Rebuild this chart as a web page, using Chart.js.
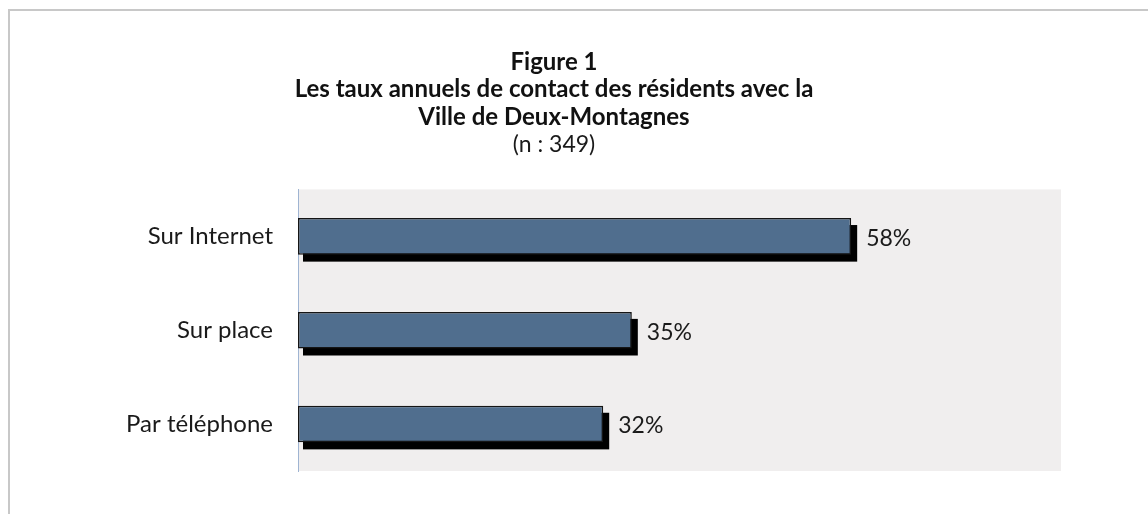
<!DOCTYPE html>
<html>
<head>
<meta charset="utf-8">
<script src="https://cdn.jsdelivr.net/npm/chart.js@4.4.0/dist/chart.umd.min.js"></script>
<style>
  html, body { margin: 0; padding: 0; background: #fff; }
  #wrap { position: relative; width: 1148px; height: 514px; overflow: hidden; }
  #frame { position: absolute; left: 8px; top: 9px; width: 1200px; height: 600px;
           border-top: 2px solid #c8c8c8; border-left: 2px solid #c8c8c8; }
  canvas { position: absolute; left: 0; top: 0; }
</style>
</head>
<body>
<div id="wrap">
  <div id="frame"></div>
  <canvas id="chart" width="1148" height="514"></canvas>
</div>
<script>
// Données
const categories = ['Sur Internet', 'Sur place', 'Par téléphone'];
const taux = [58, 35, 32];
const titleLines = ['Figure 1', 'Les taux annuels de contact des résidents avec la', 'Ville de Deux-Montagnes'];
const subtitleText = '(n : 349)';

const fontFamily = "Lato, 'Open Sans', sans-serif";

// fond gris de la zone de tracé
const plotBg = {
  id: 'plotBg',
  beforeDraw(chart) {
    const { ctx, chartArea } = chart;
    ctx.save();
    ctx.fillStyle = '#f0eeee';
    ctx.fillRect(chartArea.left, chartArea.top, chartArea.right - chartArea.left, chartArea.bottom - chartArea.top);
    ctx.restore();
  }
};

// ombre noire sous les barres (dessinée à partir des barres calculées par Chart.js)
const barShadow = {
  id: 'barShadow',
  beforeDatasetsDraw(chart) {
    const ctx = chart.ctx;
    const meta = chart.getDatasetMeta(0);
    ctx.save();
    ctx.fillStyle = '#000';
    meta.data.forEach(bar => {
      const p = bar.getProps(['x', 'y', 'base', 'height'], true);
      ctx.fillRect(p.base + 5, p.y - p.height / 2 + 7, p.x - p.base + 1, p.height);
    });
    ctx.restore();
  }
};

// étiquettes de valeurs
const valueLabels = {
  id: 'valueLabels',
  afterDatasetsDraw(chart) {
    const ctx = chart.ctx;
    const meta = chart.getDatasetMeta(0);
    ctx.save();
    ctx.font = '23px ' + fontFamily;
    ctx.fillStyle = '#1a1a1a';
    ctx.textAlign = 'left';
    ctx.textBaseline = 'middle';
    meta.data.forEach((bar, i) => {
      ctx.fillText(taux[i] + '%', bar.x + 15, bar.y + 2);
    });
    ctx.restore();
  }
};

const ctx = document.getElementById('chart').getContext('2d');
const chart = new Chart(ctx, {
  type: 'bar',
  data: {
    labels: categories,
    datasets: [{
      data: taux,
      backgroundColor: '#506e8e',
      borderColor: '#151515',
      borderWidth: 1.5,
      borderSkipped: false,
      categoryPercentage: 1,
      barPercentage: 0.39
    }]
  },
  options: {
    indexAxis: 'y',
    responsive: false,
    animation: false,
    layout: { padding: { left: 47, right: 87, top: 48, bottom: 43 } },
    plugins: {
      legend: { display: false },
      tooltip: { enabled: false },
      title: {
        display: true,
        text: titleLines,
        color: '#111',
        font: { family: fontFamily, size: 24, weight: 'bold', lineHeight: 1.15 },
        padding: { top: 0, bottom: 0 }
      },
      subtitle: {
        display: true,
        text: subtitleText,
        color: '#1a1a1a',
        font: { family: fontFamily, size: 23, lineHeight: 1.2 },
        padding: { top: 0, bottom: 31 }
      }
    },
    scales: {
      x: { display: false, min: 0, max: 80 },
      y: {
        afterFit(scale) { scale.width = 251; },
        grid: { display: false, drawTicks: false },
        border: { display: true, color: '#9fb4d2', width: 1 },
        ticks: {
          padding: 25,
          color: '#1a1a1a',
          font: { family: fontFamily, size: 24 }
        }
      }
    }
  },
  plugins: [plotBg, barShadow, valueLabels]
});
</script>
</body>
</html>
